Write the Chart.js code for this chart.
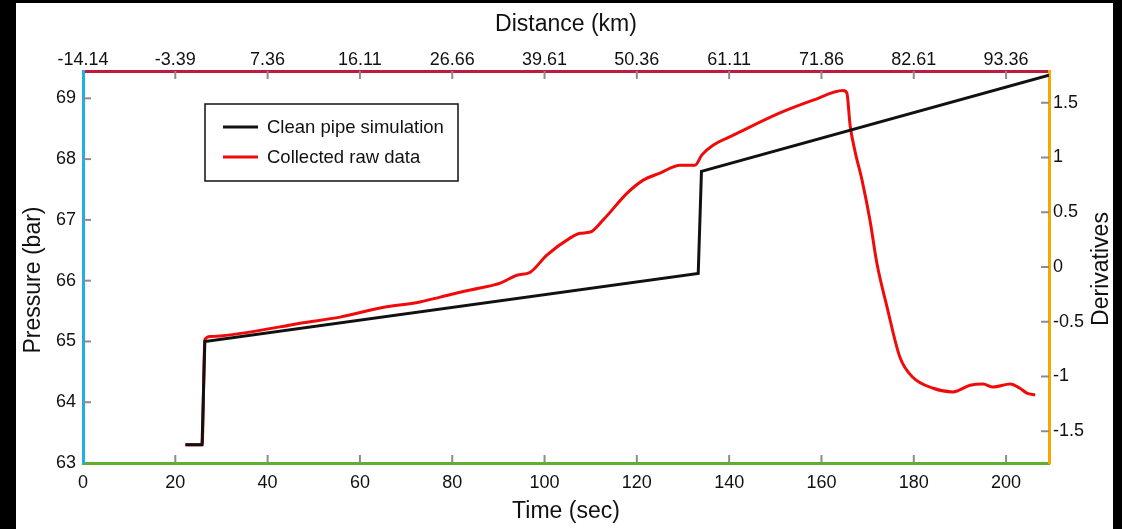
<!DOCTYPE html>
<html>
<head>
<meta charset="utf-8">
<script src="https://cdn.jsdelivr.net/npm/chart.js@4/dist/chart.umd.min.js"></script>
<style>
  html, body { margin: 0; padding: 0; background: #000; }
  #frame { position: absolute; left: 16px; top: 3px; width: 1097px; height: 526px; background: #fff; }
  #chart { display: block; }
</style>
</head>
<body>
<div id="frame"><canvas id="chart" width="1097" height="526"></canvas></div>
<script>
// ── data ──
var simTime     = [22.3, 25.8, 26.4, 133.3, 134.0, 209.3];
var simPressure = [63.30, 63.30, 65.00, 66.12, 67.80, 69.38];

var rawTime = [22.1, 25.8, 26.4, 27.6, 42.7, 47.0, 55.7, 64.4, 73.0, 77.4, 81.7, 86.0, 90.4, 94.0, 96.9,
  100.5, 105.5, 107.7, 109.9, 112.7, 117.9, 121.3, 125.0, 129.4, 132.6, 134.1, 136.5, 140.8,
  151.0, 158.2, 164.7, 165.5, 166.2, 167.3, 168.8, 170.5, 172.0, 174.2, 177.0, 179.8, 184.2,
  188.5, 192.2, 195.0, 197.2, 200.9, 203.0, 204.5, 206.3];
var rawPressure = [63.30, 63.30, 65.03, 65.08, 65.24, 65.30, 65.40, 65.55, 65.65, 65.73, 65.81, 65.88, 65.96, 66.09, 66.14,
  66.42, 66.70, 66.78, 66.80, 67.00, 67.44, 67.65, 67.77, 67.90, 67.90, 68.07, 68.23, 68.39,
  68.76, 68.97, 69.13, 69.09, 68.56, 68.12, 67.65, 67.00, 66.29, 65.57, 64.74, 64.41, 64.23,
  64.17, 64.28, 64.30, 64.25, 64.30, 64.23, 64.15, 64.12];

// top axis labels (distance) sit on the time ticks 0, 20, ... 200
var distLabels = ['-14.14', '-3.39', '7.36', '16.11', '26.66', '39.61', '50.36', '61.11', '71.86', '82.61', '93.36'];

var FONT = "'Liberation Sans', Arial, sans-serif";

function toPoints(xs, ys) {
  var pts = [];
  for (var i = 0; i < xs.length; i++) pts.push({ x: xs[i], y: ys[i] });
  return pts;
}

// ── tick marks drawn inward (MATLAB style) ──
var innerTicks = {
  id: 'innerTicks',
  afterDraw: function(chart) {
    var ctx = chart.ctx, area = chart.chartArea, len = 8;
    ctx.save();
    ctx.strokeStyle = '#8c8c8c';
    ctx.lineWidth = 2;
    Object.keys(chart.scales).forEach(function(id) {
      var s = chart.scales[id];
      s.ticks.forEach(function(t) {
        var p = s.getPixelForValue(t.value);
        ctx.beginPath();
        if (s.isHorizontal()) {
          if (p < area.left + 3 || p > area.right - 3) return;
          var y0 = s.position === 'top' ? area.top : area.bottom;
          var dir = s.position === 'top' ? 1 : -1;
          ctx.moveTo(p, y0);
          ctx.lineTo(p, y0 + dir * len);
        } else {
          if (p < area.top + 3 || p > area.bottom - 3) return;
          var x0 = s.position === 'left' ? area.left : area.right;
          var d = s.position === 'left' ? 1 : -1;
          ctx.moveTo(x0, p);
          ctx.lineTo(x0 + d * len, p);
        }
        ctx.stroke();
      });
    });
    ctx.restore();
  }
};

// ── y axis titles, both read bottom to top ──
var sideTitles = {
  id: 'sideTitles',
  afterDraw: function(chart) {
    var ctx = chart.ctx;
    var items = [
      { text: 'Pressure (bar)', x: 17.5, y: 277 },
      { text: 'Derivatives', x: 1086, y: 266 }
    ];
    ctx.save();
    ctx.font = '23px ' + FONT;
    ctx.fillStyle = '#111';
    ctx.textAlign = 'center';
    ctx.textBaseline = 'middle';
    items.forEach(function(it) {
      ctx.save();
      ctx.translate(it.x, it.y);
      ctx.rotate(-Math.PI / 2);
      ctx.fillText(it.text, 0, 0);
      ctx.restore();
    });
    ctx.restore();
  }
};

// ── legend box inside plot ──
var boxLegend = {
  id: 'boxLegend',
  afterDraw: function(chart) {
    var ctx = chart.ctx;
    var ds = chart.data.datasets;
    ctx.save();
    ctx.fillStyle = '#fff';
    ctx.fillRect(189, 101, 253, 77);
    ctx.strokeStyle = '#111';
    ctx.lineWidth = 1.5;
    ctx.strokeRect(189, 101, 253, 77);
    ctx.font = '18.5px ' + FONT;
    ctx.textBaseline = 'middle';
    for (var i = 0; i < ds.length; i++) {
      var y = 124 + i * 30;
      ctx.strokeStyle = ds[i].borderColor;
      ctx.lineWidth = 3;
      ctx.beginPath();
      ctx.moveTo(207, y);
      ctx.lineTo(242, y);
      ctx.stroke();
      ctx.fillStyle = '#111';
      ctx.fillText(ds[i].label, 251, y + 1);
    }
    ctx.restore();
  }
};

var tickFont = { family: FONT, size: 18 };
var titleFont = { family: FONT, size: 23, lineHeight: 1 };

new Chart(document.getElementById('chart'), {
  type: 'line',
  data: {
    datasets: [{
      label: 'Clean pipe simulation',
      data: toPoints(simTime, simPressure),
      borderColor: '#111111',
      borderWidth: 3,
      pointRadius: 0,
      tension: 0,
      xAxisID: 'x',
      yAxisID: 'y'
    }, {
      label: 'Collected raw data',
      data: toPoints(rawTime, rawPressure),
      borderColor: '#f00a0a',
      borderWidth: 3,
      borderJoinStyle: 'round',
      pointRadius: 0,
      cubicInterpolationMode: 'monotone',
      xAxisID: 'x',
      yAxisID: 'y'
    }]
  },
  options: {
    responsive: false,
    animation: false,
    devicePixelRatio: 1,
    layout: { padding: 0 },
    plugins: { legend: { display: false }, tooltip: { enabled: false } },
    scales: {
      x: {
        type: 'linear', position: 'bottom', min: 0, max: 209.3,
        ticks: { stepSize: 20, includeBounds: false, padding: 9, font: tickFont, color: '#111', maxRotation: 0, autoSkip: false },
        grid: { display: false, drawTicks: false },
        border: { color: '#5cb02c', width: 3 },
        title: { display: true, text: 'Time (sec)', font: titleFont, color: '#111', padding: { top: 0, bottom: 6 } },
        afterFit: function(s) { s.height = 66; }
      },
      x2: {
        type: 'linear', position: 'top', min: 0, max: 209.3,
        ticks: {
          stepSize: 20, includeBounds: false, padding: 0, font: tickFont, color: '#111', maxRotation: 0, autoSkip: false,
          callback: function(v) { return distLabels[Math.round(v / 20)]; }
        },
        grid: { display: false, drawTicks: false },
        border: { color: '#bd1a3e', width: 3 },
        title: { display: true, text: 'Distance (km)', font: titleFont, color: '#111', padding: { top: 10, bottom: 0 } },
        afterFit: function(s) { s.height = 68; }
      },
      y: {
        type: 'linear', position: 'left', min: 63, max: 69.45,
        ticks: { stepSize: 1, includeBounds: false, padding: 7, font: tickFont, color: '#111' },
        grid: { display: false, drawTicks: false },
        border: { color: '#22aee8', width: 3 },
        afterFit: function(s) { s.width = 67; }
      },
      y2: {
        type: 'linear', position: 'right', min: -1.79, max: 1.79,
        ticks: {
          stepSize: 0.5, includeBounds: false, padding: 4, font: tickFont, color: '#111',
          callback: function(v) { return String(Math.round(v * 10) / 10); }
        },
        grid: { display: false, drawTicks: false },
        border: { color: '#f5a900', width: 3 },
        afterFit: function(s) { s.width = 64; }
      }
    }
  },
  plugins: [innerTicks, sideTitles, boxLegend]
});
</script>
</body>
</html>
